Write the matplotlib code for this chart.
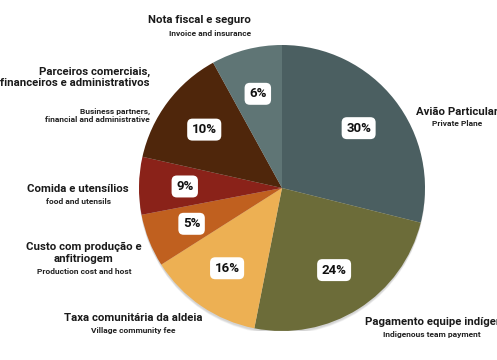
import matplotlib.pyplot as plt
import numpy as np
from matplotlib.patches import Circle

# labels shown in the white boxes (clockwise from 12 o'clock)
pct_labels = ["30%", "24%", "16%", "5%", "9%", "10%", "6%"]
# slice sizes as they are drawn in the picture (they do not follow the labels exactly)
slice_sizes = [28.9, 24.2, 12.9, 6.0, 6.5, 13.5, 8.0]
names_pt = [
    "Avião Particular",
    "Pagamento equipe indígena",
    "Taxa comunitária da aldeia",
    "Custo com produção e\nanfitriogem",
    "Comida e utensílios",
    "Parceiros comerciais,\nfinanceiros e administrativos",
    "Nota fiscal e seguro",
]
names_en = [
    "Private Plane",
    "Indigenous team payment",
    "Village community fee",
    "Production cost and host",
    "food and utensils",
    "Business partners,\nfinancial and administrative",
    "Invoice and insurance",
]
colors = ["#4b5f61", "#6c6c39", "#edb053", "#c0601f", "#8a2219", "#4f260b", "#5f7575"]

W, H = 497, 360
fig = plt.figure(figsize=(W / 100, H / 100), dpi=100)
fig.patch.set_facecolor("white")

cx, cy, r = 282, 188, 143
ax = fig.add_axes([(cx - r) / W, (H - cy - r) / H, 2 * r / W, 2 * r / H])

# soft shadow under the pie (mostly at the bottom)
for k in range(4):
    ax.add_patch(Circle((0.0, -0.012 - 0.004 * k), 1.0, color="black",
                        alpha=0.045, lw=0, zorder=0))

wedges, _ = ax.pie(slice_sizes, colors=colors, startangle=90, counterclock=False,
                   radius=1.0, wedgeprops=dict(linewidth=0))
for w in wedges:
    w.set_zorder(2)

font = dict(family="Roboto")

for w, lab in zip(wedges, pct_labels):
    mid = np.deg2rad((w.theta1 + w.theta2) / 2)
    ax.text(0.68 * np.cos(mid), 0.68 * np.sin(mid), lab, ha="center", va="center",
            fontsize=9.5, fontweight="bold", color="#111111", zorder=5, **font,
            bbox=dict(boxstyle="round,pad=0.34,rounding_size=0.4", fc="white", ec="none"))

ax.set_xlim(-1, 1)
ax.set_ylim(-1, 1)
ax.set_aspect("equal")
ax.axis("off")

# outer labels: (x, y of main text, ha, y of english text)
label_pos = [
    (457, 112, "center", 124),
    (365, 322, "left", 334),
    (133, 318, "center", 330),
    (84, 253, "center", 271),
    (78, 189, "center", 201),
    (150, 77, "right", 115),
    (251, 20, "right", 33),
]
en_x = [457, 432, 133, 84, 78, 150, 251]

for (x, y, ha, ye), xe, pt, en in zip(label_pos, en_x, names_pt, names_en):
    fig.text(x / W, 1 - y / H, pt, ha=ha, va="center", fontsize=8.2, fontweight="bold",
             color="#1a1a1a", linespacing=1.15, **font)
    ha_e = "center" if ha == "left" else ha
    fig.text(xe / W, 1 - ye / H, en, ha=ha_e, va="center", fontsize=6, fontweight="bold",
             color="#222222", linespacing=1.15, **font)

fig.savefig("out.png", dpi=100)
